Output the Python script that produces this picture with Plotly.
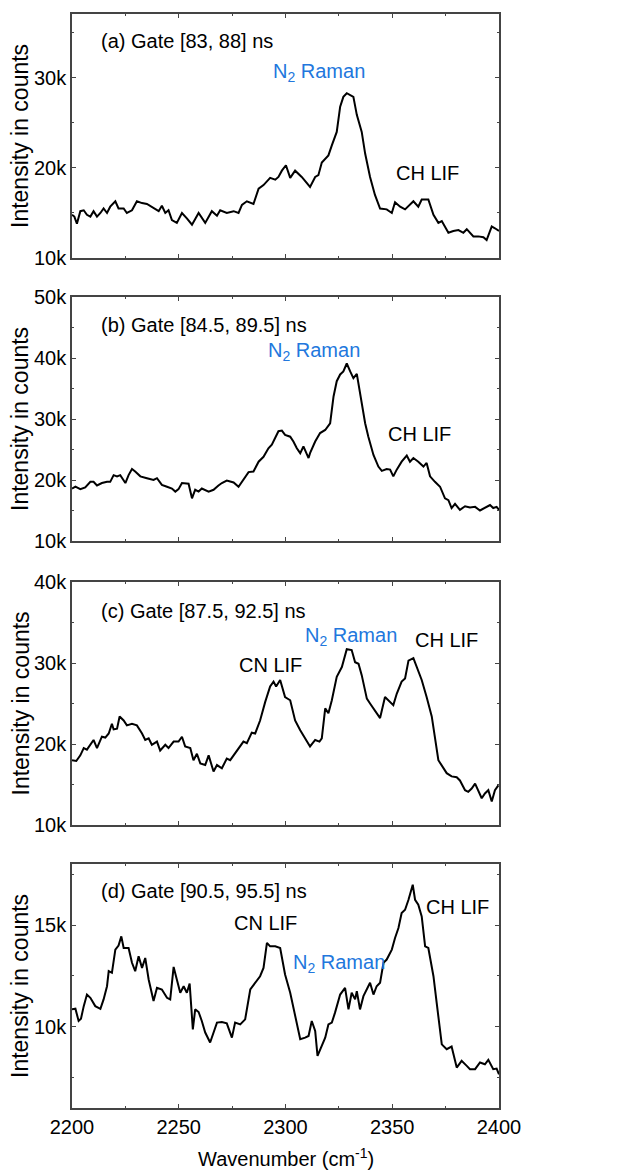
import plotly.graph_objects as go

# ---------------- data (wavenumber in cm^-1, intensity in counts) ----------------
wn_a = [2200.0, 2201.1, 2202.3, 2203.9, 2205.5, 2207.0, 2208.6, 2210.1, 2211.7, 2213.3, 2214.8, 2216.4,
        2217.9, 2220.3, 2221.8, 2224.2, 2225.7, 2228.1, 2230.4, 2232.8, 2235.1, 2238.2, 2240.6, 2242.1,
        2243.7, 2245.2, 2246.8, 2249.1, 2251.5, 2253.8, 2256.2, 2259.3, 2262.4, 2265.5, 2267.9, 2269.4,
        2272.5, 2275.7, 2278.0, 2279.6, 2281.9, 2285.0, 2287.4, 2289.7, 2292.8, 2295.2, 2296.7, 2298.3,
        2300.2, 2302.2, 2304.5, 2307.6, 2311.5, 2313.9, 2315.4, 2317.0, 2320.1, 2321.7, 2324.0, 2325.6,
        2327.1, 2328.7, 2331.8, 2333.4, 2335.7, 2337.3, 2339.6, 2341.9, 2344.3, 2347.4, 2349.8, 2351.3,
        2353.7, 2356.0, 2359.9, 2362.2, 2363.8, 2366.9, 2369.3, 2371.6, 2373.2, 2376.3, 2378.6, 2381.0,
        2383.3, 2384.9, 2388.0, 2390.3, 2392.7, 2394.2, 2396.6, 2398.1, 2400.0]
int_a = [14800, 14600, 13800, 15200, 15300, 14800, 14600, 15200, 14600, 15000, 15500, 15000,
         15700, 16300, 15500, 15500, 15000, 15300, 16300, 16100, 16000, 15500, 15200, 15800,
         15000, 15300, 14200, 13900, 15000, 14400, 13700, 15000, 13900, 15200, 14700, 15300,
         15000, 15200, 15000, 15900, 16300, 16000, 17700, 18100, 18900, 18700, 19000, 19700,
         20300, 18900, 19700, 19000, 17900, 19000, 19200, 20600, 21400, 22500, 24000, 26800,
         27900, 28300, 27900, 25900, 24000, 21600, 19000, 17000, 15500, 15400, 15000, 16200,
         15700, 15400, 16300, 15700, 16500, 16500, 14800, 13900, 14100, 12800, 13000, 13100,
         12800, 13200, 12400, 12400, 12300, 12000, 13500, 13300, 13000]

wn_b = [2200.0, 2201.6, 2203.9, 2206.2, 2208.6, 2210.1, 2211.7, 2214.0, 2216.4, 2217.9, 2219.5, 2221.1,
        2222.6, 2225.0, 2226.5, 2228.1, 2229.6, 2232.0, 2235.1, 2238.2, 2239.8, 2242.1, 2244.5, 2246.8,
        2248.4, 2249.9, 2251.5, 2254.6, 2256.2, 2257.7, 2259.3, 2260.8, 2264.0, 2266.3, 2268.6, 2270.2,
        2272.5, 2275.7, 2278.0, 2280.3, 2282.7, 2285.0, 2287.4, 2289.7, 2292.0, 2293.6, 2295.2, 2296.7,
        2298.3, 2299.8, 2302.2, 2303.7, 2305.3, 2306.9, 2308.4, 2310.8, 2311.5, 2313.9, 2316.2, 2318.6,
        2320.9, 2322.5, 2324.0, 2325.6, 2327.1, 2328.7, 2330.3, 2331.8, 2333.4, 2334.9, 2337.3, 2338.8,
        2341.2, 2343.5, 2345.1, 2347.4, 2349.0, 2350.5, 2352.1, 2354.4, 2356.8, 2358.3, 2359.9, 2362.2,
        2364.6, 2366.1, 2367.7, 2370.0, 2372.4, 2374.7, 2376.3, 2377.8, 2379.4, 2381.7, 2384.1, 2386.4,
        2388.8, 2391.1, 2393.4, 2395.8, 2397.3, 2398.9, 2400.0]
int_b = [18600, 18900, 18500, 18800, 19700, 19700, 19100, 19500, 19700, 19700, 20800, 20600,
         20800, 19500, 20800, 21800, 21400, 20600, 20300, 20000, 20300, 19200, 18900, 18600,
         18100, 18500, 19500, 19400, 17000, 18400, 18100, 18600, 18100, 18400, 19100, 19500,
         19900, 19600, 18900, 20000, 21300, 21400, 23000, 23800, 25200, 25800, 26900, 28000,
         28100, 27400, 27100, 26300, 25200, 24400, 25500, 23600, 24400, 26300, 27700, 28200,
         29300, 33700, 36200, 37300, 37800, 39100, 37800, 36700, 37400, 34200, 29300, 27100,
         24100, 22200, 21500, 21800, 21700, 20600, 21700, 23000, 24000, 23000, 23600, 23000,
         22200, 22800, 20600, 19700, 18900, 17000, 16700, 15400, 16100, 15100, 15700, 15500,
         15600, 15000, 15400, 15900, 15400, 15600, 15100]

wn_c = [2200.0, 2202.0, 2203.9, 2205.5, 2207.0, 2208.6, 2210.1, 2211.7, 2214.0, 2215.6, 2217.2, 2218.7,
        2219.5, 2221.1, 2222.3, 2224.2, 2225.7, 2228.1, 2230.4, 2232.8, 2234.3, 2235.9, 2237.4, 2239.8,
        2241.3, 2243.7, 2245.2, 2247.6, 2249.9, 2251.5, 2253.0, 2255.4, 2256.9, 2258.5, 2260.1, 2262.4,
        2264.0, 2266.3, 2267.9, 2270.2, 2272.5, 2274.1, 2275.7, 2278.0, 2280.3, 2281.9, 2284.2, 2285.8,
        2288.1, 2290.5, 2292.8, 2294.4, 2295.6, 2297.5, 2299.8, 2302.2, 2304.5, 2306.9, 2309.2, 2311.5,
        2313.9, 2315.9, 2317.0, 2318.6, 2320.1, 2321.7, 2324.0, 2326.4, 2328.7, 2331.0, 2332.6, 2334.2,
        2335.7, 2338.1, 2339.6, 2342.0, 2344.3, 2346.6, 2348.2, 2350.5, 2352.1, 2354.4, 2356.0, 2357.6,
        2359.9, 2362.2, 2363.8, 2366.1, 2368.5, 2371.6, 2373.2, 2375.5, 2377.8, 2380.2, 2381.7, 2384.1,
        2385.6, 2387.2, 2388.8, 2390.3, 2391.9, 2393.4, 2395.0, 2396.6, 2398.1, 2399.7]
int_c = [18000, 17900, 18600, 19500, 19300, 19900, 20500, 19500, 20900, 20800, 21300, 22500,
         21800, 21900, 23400, 22900, 22300, 22500, 22300, 21300, 20500, 20700, 19900, 20300,
         19200, 19900, 19500, 20300, 20300, 20900, 19700, 19500, 18000, 18800, 17600, 17400,
         18600, 16600, 17400, 17000, 18200, 18000, 18600, 19400, 20300, 20100, 21400, 21300,
         22900, 25200, 27100, 27700, 27100, 27900, 25800, 25400, 22900, 21700, 20700, 19700,
         20500, 20300, 20700, 24400, 23800, 25400, 28300, 29500, 31700, 31600, 30100, 29900,
         28500, 25600, 25000, 24000, 23200, 25800, 25400, 24800, 26200, 27700, 28100, 30300,
         30600, 29100, 27900, 25800, 23400, 18000, 17400, 16400, 16000, 15900, 15500, 14300,
         14100, 14500, 15100, 14300, 13300, 13900, 14300, 12900, 14300, 14900]

wn_d = [2200.0, 2201.6, 2203.1, 2204.2, 2205.5, 2207.0, 2208.6, 2210.9, 2213.3, 2214.8, 2216.4, 2217.2,
        2218.7, 2220.3, 2221.8, 2223.1, 2224.2, 2226.5, 2228.1, 2229.6, 2231.2, 2232.8, 2234.3, 2235.9,
        2238.2, 2239.8, 2242.1, 2244.5, 2246.0, 2247.6, 2249.1, 2250.7, 2252.3, 2253.8, 2255.1, 2256.6,
        2257.7, 2259.3, 2260.8, 2262.4, 2264.7, 2266.3, 2267.9, 2270.2, 2272.5, 2274.9, 2276.4, 2278.8,
        2281.1, 2283.5, 2285.8, 2288.1, 2289.7, 2291.3, 2292.8, 2295.2, 2297.5, 2299.8, 2302.2, 2304.5,
        2306.9, 2309.2, 2310.8, 2312.3, 2313.9, 2315.0, 2317.0, 2318.6, 2320.1, 2321.7, 2323.2, 2325.6,
        2327.9, 2329.5, 2331.0, 2332.6, 2333.4, 2334.9, 2336.5, 2338.1, 2339.6, 2341.2, 2342.7, 2344.3,
        2345.9, 2347.4, 2349.8, 2351.3, 2352.9, 2354.4, 2356.0, 2357.6, 2359.6, 2360.7, 2362.2, 2363.8,
        2365.4, 2366.9, 2369.3, 2370.8, 2373.2, 2375.5, 2377.8, 2380.2, 2382.5, 2384.9, 2386.4, 2388.8,
        2391.1, 2393.4, 2395.0, 2397.3, 2398.9, 2400.0]
int_d = [10850, 10880, 10280, 10390, 11010, 11580, 11420, 11010, 10880, 11340, 11990, 12730,
         12650, 13790, 13990, 14440, 13870, 13870, 13140, 12730, 13460, 12890, 13380, 12320,
         11260, 11910, 11830, 11420, 11340, 12940, 12320, 11670, 11990, 11670, 12120, 9870,
         10850, 10720, 10280, 9710, 9220, 9710, 10200, 10230, 10160, 9460, 10200, 10110,
         10360, 11830, 12160, 12480, 12890, 14120, 13950, 13950, 13870, 12570, 11670, 10520,
         9380, 9460, 9540, 10280, 9790, 8560, 9050, 9460, 10110, 10200, 10690, 11580,
         11910, 10850, 11670, 11340, 11750, 10850, 11500, 11830, 12160, 11580, 11990, 12160,
         13140, 13300, 13790, 14360, 14850, 15590, 15750, 16240, 16980, 16240, 16000, 15420,
         13950, 13870, 12480, 11180, 9130, 8890, 9020, 7990, 8320, 8070, 7910, 7910,
         8240, 8150, 8370, 7910, 7940, 7660]

panel_x = [wn_a, wn_b, wn_c, wn_d]
panel_y = [int_a, int_b, int_c, int_d]
y_ranges = [[10000, 37100], [10000, 50000], [10000, 40000], [6000, 18000]]
y_dticks = [10000, 10000, 10000, 5000]
gate_labels = ["(a) Gate [83, 88] ns", "(b) Gate [84.5, 89.5] ns",
               "(c) Gate [87.5, 92.5] ns", "(d) Gate [90.5, 95.5] ns"]
gate_pos = [(2212.6, 34100), (2212.6, 45400), (2212.6, 36400), (2212.6, 16680)]
# species labels: (panel, text, x, y, colour)
species = [
    (0, "N<sub>2</sub> Raman", 2293.2, 30600, "#2277DD"),
    (0, "CH LIF", 2350.8, 19440, "black"),
    (1, "N<sub>2</sub> Raman", 2290.9, 41000, "#2277DD"),
    (1, "CH LIF", 2347.1, 27500, "black"),
    (2, "CN LIF", 2277.3, 29700, "black"),
    (2, "N<sub>2</sub> Raman", 2308.2, 33300, "#2277DD"),
    (2, "CH LIF", 2359.7, 32800, "black"),
    (3, "CN LIF", 2274.9, 15110, "black"),
    (3, "N<sub>2</sub> Raman", 2302.6, 13100, "#2277DD"),
    (3, "CH LIF", 2364.9, 15900, "black"),
]

# ---------------- layout ----------------
W, H = 617, 1170
FONT = "Liberation Sans, Arial, sans-serif"
x_dom = [72 / W, 499 / W]
panel_px = [(14, 258), (297, 541), (582, 825), (864, 1108)]

fig = go.Figure()
layout = dict(
    width=W, height=H, margin=dict(l=0, r=0, t=0, b=0, autoexpand=False),
    paper_bgcolor="white", plot_bgcolor="white", showlegend=False,
    font=dict(family=FONT, size=20, color="black"),
)
annotations = []
for i in range(4):
    sfx = "" if i == 0 else str(i + 1)
    fig.add_trace(go.Scatter(x=panel_x[i], y=panel_y[i], mode="lines",
                             line=dict(color="black", width=2),
                             xaxis="x" + sfx, yaxis="y" + sfx, hoverinfo="skip"))
    top, bot = panel_px[i]
    ydom = [1 - bot / H, 1 - top / H]
    layout["xaxis" + sfx] = dict(
        domain=x_dom, range=[2200, 2400], dtick=50, tick0=2200, automargin=False,
        showline=True, linecolor="#444", linewidth=1.5, mirror="ticks",
        ticks="inside", ticklen=4, tickcolor="#444", tickwidth=1,
        minor=dict(ticks="inside", ticklen=2, dtick=25, tickcolor="#444"),
        showgrid=False, zeroline=False, showticklabels=(i == 3),
        tickfont=dict(size=20), anchor="y" + sfx,
    )
    layout["yaxis" + sfx] = dict(
        domain=ydom, range=y_ranges[i], dtick=y_dticks[i], tick0=0, automargin=False,
        tickformat="~s", showline=True, linecolor="#444", linewidth=1.5, mirror="ticks",
        ticks="inside", ticklen=4, tickcolor="#444", tickwidth=1,
        minor=dict(ticks="inside", ticklen=2, dtick=y_dticks[i] / 2, tickcolor="#444"),
        showgrid=False, zeroline=False, tickfont=dict(size=20), anchor="x" + sfx,
    )
    # y-axis title
    annotations.append(dict(xref="paper", yref="paper", x=20 / W, y=1 - (top + bot) / 2 / H,
                            text="Intensity in counts", textangle=-90, showarrow=False,
                            font=dict(size=23, color="black"), xanchor="center", yanchor="middle"))
    annotations.append(dict(xref="x" + sfx, yref="y" + sfx, x=gate_pos[i][0], y=gate_pos[i][1],
                            text=gate_labels[i], showarrow=False, xanchor="left", yanchor="middle",
                            font=dict(size=20, color="black")))

for p, txt, x, y, col in species:
    sfx = "" if p == 0 else str(p + 1)
    annotations.append(dict(xref="x" + sfx, yref="y" + sfx, x=x, y=y, text=txt, showarrow=False,
                            xanchor="left", yanchor="middle", font=dict(size=20, color=col)))

annotations.append(dict(xref="paper", yref="paper", x=(72 + 499) / 2 / W, y=1 - 1157 / H,
                        text="Wavenumber (cm<sup>-1</sup>)", showarrow=False,
                        xanchor="center", yanchor="middle", font=dict(size=20, color="black")))
layout["annotations"] = annotations
fig.update_layout(**layout)
fig.write_html("out.html")
